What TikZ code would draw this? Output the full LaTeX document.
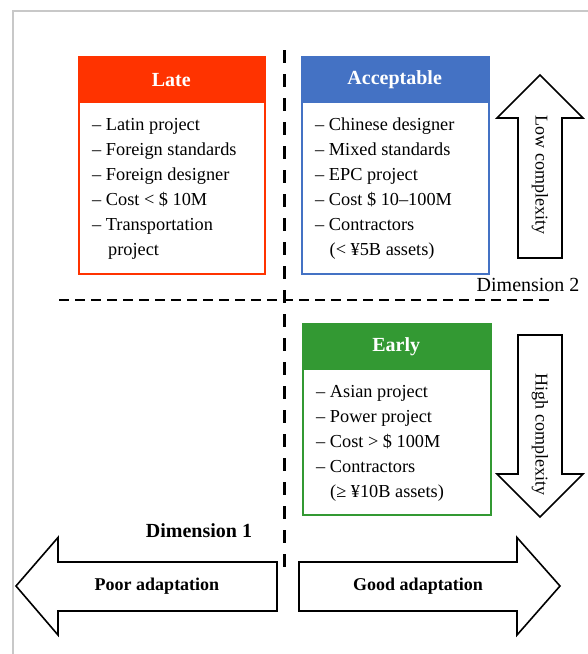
\documentclass[tikz,border=0pt]{standalone}
\usepackage{fontspec}
\setmainfont{Liberation Serif}
\definecolor{latered}{RGB}{255,51,0}
\definecolor{accblue}{RGB}{68,114,196}
\definecolor{earlygreen}{RGB}{51,153,51}
\definecolor{framegray}{RGB}{200,200,200}
\tikzset{
  box/.style={draw=#1, line width=1.5pt, fill=white, anchor=north west, inner sep=0pt},
  header/.style={fill=#1, anchor=north west, inner sep=0pt, text=white, font=\fontsize{20}{24}\selectfont\bfseries},
  body/.style={anchor=north west, inner sep=0pt, align=left, font=\fontsize{18.3}{25}\selectfont},
  bigarrow/.style={draw=black, line width=1.6pt, fill=white, line join=miter},
  vdash/.style={line width=3pt, dash pattern=on 13pt off 11pt},
  hdash/.style={line width=2.6pt, dash pattern=on 10pt off 6pt},
  armlabel/.style={font=\fontsize{18}{22}\selectfont},
}
\begin{document}
\begin{tikzpicture}[x=1pt,y=-1pt]
\useasboundingbox (0,0) rectangle (588,654);
% frame
\draw[framegray, line width=1.5pt] (13,654) -- (13,11) -- (588,11);
% dashed axes
\coordinate (vtop) at (284,50);
\coordinate (vbot) at (284,577);
\coordinate (hleft) at (59,300);
\coordinate (hright) at (550,300);
\draw[vdash] (vtop) -- (vbot);
\draw[hdash] (hleft) -- (hright);
% Late box
\node[box=latered, minimum width=186pt, minimum height=217pt] (late) at (78,56) {};
\node[header=latered, minimum width=186pt, minimum height=47pt] (lateh) at (78,56) {Late};
\node[body] (lateb) at (92,112.5) {\strut– Latin project\\– Foreign standards\\– Foreign designer\\– Cost < \$ 10M\\– Transportation\\\hspace{16pt}project};
% Acceptable box
\node[box=accblue, minimum width=187pt, minimum height=217pt] (acc) at (301,56) {};
\node[header=accblue, minimum width=187pt, minimum height=47pt] (acch) at (301,56) {Acceptable};
\node[body] (accb) at (315,112.5) {\strut– Chinese designer\\– Mixed standards\\– EPC project\\– Cost \$ 10–100M\\– Contractors\\\hspace{14.5pt}(< ¥5B assets)};
% Early box
\node[box=earlygreen, minimum width=188pt, minimum height=191pt] (early) at (302,323) {};
\node[header=earlygreen, minimum width=188pt, minimum height=47pt] (earlyh) at (302,323) {Early};
\node[body] (earlyb) at (316,379.5) {\strut– Asian project\\– Power project\\– Cost > \$ 100M\\– Contractors\\\hspace{14pt}(≥ ¥10B assets)};
% Low complexity arrow (up)
\draw[bigarrow] (540,75) -- (583,118) -- (562,118) -- (562,258) -- (518,258) -- (518,118) -- (497,118) -- cycle;
\node[armlabel, rotate=-90] (low) at (540,175) {Low complexity};
% High complexity arrow (down)
\draw[bigarrow] (518,335) -- (562,335) -- (562,474) -- (583,474) -- (540,517) -- (497,474) -- (518,474) -- cycle;
\node[armlabel, rotate=-90] (high) at (540,434.5) {High complexity};
% Dimension 2
\node[font=\fontsize{20}{24}\selectfont, anchor=east] (dim2) at (583,285) {Dimension 2};
% Dimension 1
\node[font=\fontsize{20}{24}\selectfont\bfseries] (dim1) at (199,531) {Dimension 1};
% Poor adaptation arrow (left)
\draw[bigarrow] (16,586) -- (58,537.5) -- (58,562) -- (277,562) -- (277,611) -- (58,611) -- (58,635) -- cycle;
\node[font=\fontsize{18}{22}\selectfont\bfseries] (poor) at (157,586) {Poor adaptation};
% Good adaptation arrow (right)
\draw[bigarrow] (560,586) -- (517,537.5) -- (517,562) -- (299,562) -- (299,611) -- (517,611) -- (517,635) -- cycle;
\node[font=\fontsize{18}{22}\selectfont\bfseries] (good) at (418,586) {Good adaptation};
\end{tikzpicture}
\end{document}
